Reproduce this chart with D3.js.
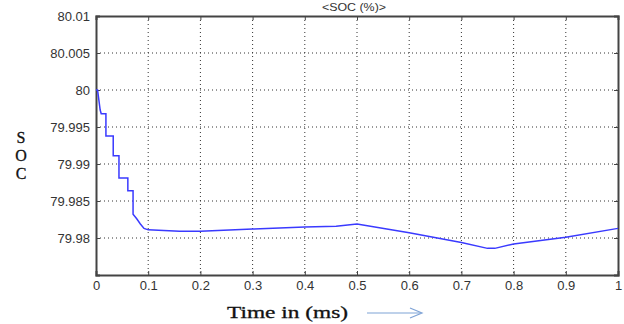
<!DOCTYPE html>
<html>
<head>
<meta charset="utf-8">
<script src="https://cdn.jsdelivr.net/npm/d3@7"></script>
<style>
  body { margin: 0; background: #fff; }
  svg { display: block; }
</style>
</head>
<body>
<div id="chart"></div>
<script>
var width = 624,
  height = 324;

// time (ms) and SOC (%)
var timeMs = [0, 0.003, 0.008, 0.01, 0.019, 0.019, 0.033, 0.033, 0.044, 0.044, 0.061, 0.061,
  0.071, 0.071, 0.078, 0.085, 0.092, 0.1, 0.16, 0.2, 0.3, 0.4, 0.46, 0.5, 0.6, 0.7, 0.75, 0.764, 0.8, 0.9, 1.0];
var soc = [80.0, 80.0, 79.9973, 79.9968, 79.9968, 79.9938, 79.9938, 79.9911, 79.9911, 79.9881, 79.9881, 79.9864,
  79.9864, 79.9832, 79.9826, 79.9819, 79.9813, 79.9811, 79.9809, 79.9809, 79.9812, 79.9815, 79.9816, 79.9819, 79.9807, 79.9794, 79.9786, 79.9786, 79.9792, 79.9801, 79.9813];

var xTicks = [0, 0.1, 0.2, 0.3, 0.4, 0.5, 0.6, 0.7, 0.8, 0.9, 1];
var yTicks = [79.98, 79.985, 79.99, 79.995, 80, 80.005, 80.01];
var yTickLabels = ["79.98", "79.985", "79.99", "79.995", "80", "80.005", "80.01"];

var pLeft = 96, pRight = 618, pTop = 16, pBottom = 275;

var svg = d3.select( "#chart" )
  .append( "svg" )
  .attr( "width", width )
  .attr( "height", height );

var x = d3.scaleLinear().domain( [0, 1] ).range( [pLeft, pRight] );
var y = d3.scaleLinear().domain( [79.975, 80.01] ).range( [pBottom, pTop] );

// grid
var grid = svg.append( "g" )
  .attr( "stroke", "#333" )
  .attr( "stroke-width", 1 )
  .attr( "stroke-dasharray", "1,3" );

grid.selectAll( "line.gx" )
  .data( xTicks.slice( 1, -1 ) )
  .enter()
  .append( "line" )
  .attr( "x1", function(d){ return x(d); } )
  .attr( "x2", function(d){ return x(d); } )
  .attr( "y1", pTop )
  .attr( "y2", pBottom );

grid.selectAll( "line.gy" )
  .data( yTicks.slice( 0, -1 ) )
  .enter()
  .append( "line" )
  .attr( "x1", pLeft )
  .attr( "x2", pRight )
  .attr( "y1", function(d){ return y(d); } )
  .attr( "y2", function(d){ return y(d); } );

// axes, ticks inward like matlab
var xAxis = d3.axisBottom( x ).tickValues( xTicks ).tickSize( -4 ).tickPadding( 6 )
  .tickFormat( function(d){ return d3.format( "" )( d ); } );
var yAxis = d3.axisLeft( y ).tickValues( yTicks ).tickSize( -4 ).tickPadding( 6 )
  .tickFormat( function(d, i){ return yTickLabels[i]; } );

svg.append( "g" )
  .attr( "transform", "translate(0," + pBottom + ")" )
  .call( xAxis );
svg.append( "g" )
  .attr( "transform", "translate(" + pLeft + ",0)" )
  .call( yAxis );
svg.append( "g" )
  .attr( "transform", "translate(0," + pTop + ")" )
  .call( d3.axisTop( x ).tickValues( xTicks ).tickSize( -4 ).tickFormat( "" ) );
svg.append( "g" )
  .attr( "transform", "translate(" + pRight + ",0)" )
  .call( d3.axisRight( y ).tickValues( yTicks ).tickSize( -4 ).tickFormat( "" ) );

svg.selectAll( ".domain" ).attr( "stroke", "#444" ).attr( "stroke-width", 2 );
svg.selectAll( ".tick line" ).attr( "stroke", "#444" );
svg.selectAll( ".tick text" )
  .attr( "fill", "#333" )
  .style( "font-family", "Liberation Sans, Arial, sans-serif" )
  .style( "font-size", "13px" );

// line
var line = d3.line()
  .x( function(d, i){ return x( timeMs[i] ); } )
  .y( function(d){ return y( d ); } );

svg.append( "path" )
  .datum( soc )
  .attr( "fill", "none" )
  .attr( "stroke", "#3a3aff" )
  .attr( "stroke-width", 1.5 )
  .attr( "d", line );

// title
svg.append( "text" )
  .attr( "x", 322 )
  .attr( "y", 11 )
  .attr( "textLength", 64 )
  .attr( "lengthAdjust", "spacingAndGlyphs" )
  .attr( "fill", "#333" )
  .style( "font-family", "Liberation Sans, Arial, sans-serif" )
  .style( "font-size", "11px" )
  .text( "<SOC (%)>" );

// y label, stacked letters
svg.selectAll( "text.ylab" )
  .data( ["S", "O", "C"] )
  .enter()
  .append( "text" )
  .attr( "x", 21 )
  .attr( "y", function(d, i){ return 143 + i * 18; } )
  .attr( "text-anchor", "middle" )
  .attr( "fill", "#111" )
  .attr( "stroke", "#111" )
  .attr( "stroke-width", 0.3 )
  .style( "font-family", "Liberation Serif, Times New Roman, serif" )
  .style( "font-size", "16px" )
  .text( function(d){ return d; } );

// x label and arrow
svg.append( "text" )
  .attr( "x", 227 )
  .attr( "y", 318 )
  .attr( "textLength", 121 )
  .attr( "lengthAdjust", "spacingAndGlyphs" )
  .attr( "fill", "#111" )
  .attr( "stroke", "#111" )
  .attr( "stroke-width", 0.3 )
  .style( "font-family", "Liberation Serif, Times New Roman, serif" )
  .style( "font-size", "17px" )
  .text( "Time in (ms)" );

svg.append( "line" )
  .attr( "x1", 367 ).attr( "x2", 421 )
  .attr( "y1", 313 ).attr( "y2", 313 )
  .attr( "stroke", "#7fa3d6" )
  .attr( "stroke-width", 1.2 );
svg.append( "path" )
  .attr( "d", "M410,308 L422,313 L410,318" )
  .attr( "fill", "none" )
  .attr( "stroke", "#7fa3d6" )
  .attr( "stroke-width", 1.2 );
</script>
</body>
</html>
